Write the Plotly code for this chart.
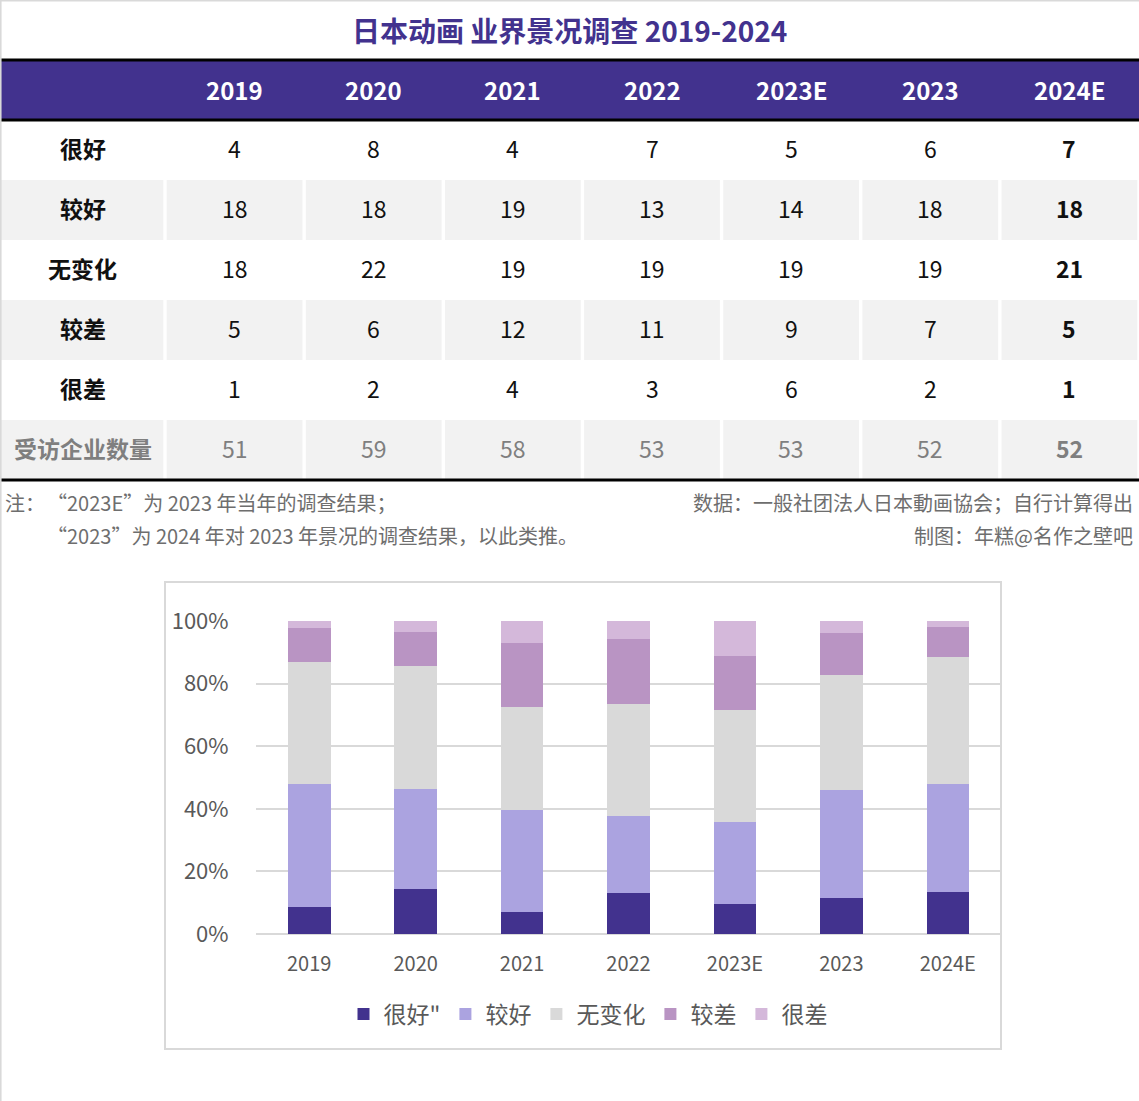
import plotly.graph_objects as go

# ---------------- data ----------------
years = ["2019", "2020", "2021", "2022", "2023E", "2023", "2024E"]
row_labels = ["很好", "较好", "无变化", "较差", "很差", "受访企业数量"]
very_good = [4, 8, 4, 7, 5, 6, 7]
good = [18, 18, 19, 13, 14, 18, 18]
no_change = [18, 22, 19, 19, 19, 19, 21]
bad = [5, 6, 12, 11, 9, 7, 5]
very_bad = [1, 2, 4, 3, 6, 2, 1]
respondents = [51, 59, 58, 53, 53, 52, 52]
legend_names = ['很好"', "较好", "无变化", "较差", "很差"]

title_text = "日本动画 业界景况调查 2019-2024"
note_head = "注："
note_lines = ["“2023E”为 2023 年当年的调查结果；",
              "“2023”为 2024 年对 2023 年景况的调查结果，以此类推。"]
source_lines = ["数据：一般社团法人日本動画協会；自行计算得出",
                "制图：年糕@名作之壁吧"]

# ---------------- styles ----------------
FONT = "Noto Sans CJK SC"
PURPLE = "#42328E"
GREY_ROW = "#F2F2F2"
series_colors = ["#42328E", "#ABA3E0", "#D9D9D9", "#B994C3", "#D4B8DA"]
W, H = 1139, 1101

fig = go.Figure()

series = [very_good, good, no_change, bad, very_bad]
for name, vals, col in zip(legend_names, series, series_colors):
    fig.add_trace(go.Bar(x=years, y=vals, name=name, marker_color=col,
                         marker_line_width=0, xaxis="x", yaxis="y"))

# ---------------- table (on hidden axes x2/y2) ----------------
label_w = 165 / ((W - 165) / 7)  # label column width in data-column units
total_w = label_w + 7
table_rows = [very_good, good, no_change, bad, very_bad, respondents]

shapes = []
annotations = []

shapes.append(dict(type="rect", xref="x2", yref="y2", x0=0, x1=total_w, y0=0, y1=1,
                   fillcolor=PURPLE, line_width=0, layer="below"))
gap = 0.012
for r in range(len(table_rows)):
    if r % 2 == 1:
        cells = [(0, label_w)] + [(label_w + c, label_w + c + 1) for c in range(7)]
        for (a, b) in cells:
            shapes.append(dict(type="rect", xref="x2", yref="y2",
                               x0=a + (gap if a > 0 else 0.006), x1=b - gap,
                               y0=r + 1, y1=r + 2, fillcolor=GREY_ROW,
                               line_width=0, layer="below"))
for yy in [0, 1, len(table_rows) + 1]:
    shapes.append(dict(type="line", xref="x2", yref="y2", x0=0, x1=total_w,
                       y0=yy, y1=yy, line=dict(color="black", width=3)))

for c, yr in enumerate(years):
    annotations.append(dict(xref="x2", yref="y2", x=label_w + c + 0.5, y=0.5,
                            text=f"<b>{yr}</b>", showarrow=False,
                            font=dict(family=FONT, size=24, color="white"),
                            xanchor="center", yanchor="middle"))

for r, (lab, vals) in enumerate(zip(row_labels, table_rows)):
    last = r == len(table_rows) - 1
    tcol = "#7F7F7F" if last else "#111111"
    annotations.append(dict(xref="x2", yref="y2", x=label_w / 2, y=r + 1.47,
                            text=f"<b>{lab}</b>", showarrow=False,
                            font=dict(family=FONT, size=23, color=tcol),
                            xanchor="center", yanchor="middle"))
    for c, v in enumerate(vals):
        txt = f"<b>{v}</b>" if c == 6 else str(v)
        annotations.append(dict(xref="x2", yref="y2", x=label_w + c + 0.5, y=r + 1.47,
                                text=txt, showarrow=False,
                                font=dict(family=FONT, size=23, color=tcol),
                                xanchor="center", yanchor="middle"))

def py(px):
    return 1 - px / H

def pxx(px):
    return px / W

annotations.append(dict(xref="paper", yref="paper", x=0.5, y=py(30), text=f"<b>{title_text}</b>",
                        showarrow=False, font=dict(family=FONT, size=28, color=PURPLE),
                        xanchor="center", yanchor="middle"))
NOTE_COL = "#6E6E6E"
annotations.append(dict(xref="paper", yref="paper", x=pxx(3), y=py(502), text=note_head,
                        showarrow=False, font=dict(family=FONT, size=20, color=NOTE_COL),
                        xanchor="left", yanchor="middle"))
for i, t in enumerate(note_lines):
    annotations.append(dict(xref="paper", yref="paper", x=pxx(45), y=py(502 + 33 * i), text=t,
                            showarrow=False, font=dict(family=FONT, size=20, color=NOTE_COL),
                            xanchor="left", yanchor="middle"))
for i, t in enumerate(source_lines):
    annotations.append(dict(xref="paper", yref="paper", x=pxx(1135), y=py(502 + 33 * i), text=t,
                            showarrow=False, font=dict(family=FONT, size=20, color=NOTE_COL),
                            xanchor="right", yanchor="middle"))

shapes.append(dict(type="rect", xref="paper", yref="paper", x0=pxx(165), x1=pxx(1001),
                   y0=py(1049), y1=py(582), line=dict(color="#D9D9D9", width=2),
                   fillcolor="rgba(0,0,0,0)", layer="below"))
shapes.append(dict(type="line", xref="paper", yref="paper", x0=0.0005, x1=0.0005, y0=0, y1=1,
                   line=dict(color="#D9D9D9", width=2)))
shapes.append(dict(type="line", xref="paper", yref="paper", x0=0, x1=1, y0=0.9995, y1=0.9995,
                   line=dict(color="#D9D9D9", width=2)))

fig.update_layout(
    width=W, height=H,
    margin=dict(l=0, r=0, t=0, b=0, autoexpand=False),
    paper_bgcolor="white", plot_bgcolor="white",
    barmode="stack", barnorm="fraction", bargap=0.6,
    font=dict(family=FONT, color="#595959"),
    xaxis=dict(domain=[pxx(256), pxx(1001)], anchor="y", showgrid=False, showline=False,
               zeroline=False, ticks="outside", ticklen=12, tickcolor="rgba(0,0,0,0)",
               automargin=False,
               tickfont=dict(family=FONT, size=20, color="#595959"), fixedrange=True),
    yaxis=dict(domain=[py(934), py(621)], anchor="x", range=[0, 1], dtick=0.2,
               tickformat=".0%", showgrid=True, gridcolor="#D9D9D9", gridwidth=2,
               zeroline=True, zerolinecolor="#D9D9D9", zerolinewidth=2,
               ticks="outside", ticklen=22, tickcolor="rgba(0,0,0,0)",
               automargin=False,
               tickfont=dict(family=FONT, size=22, color="#595959"), fixedrange=True),
    xaxis2=dict(domain=[0, 1], anchor="y2", range=[0, total_w], visible=False,
                automargin=False, fixedrange=True),
    yaxis2=dict(domain=[py(483), py(57)], anchor="x2", range=[7.05, -0.05], visible=False,
                automargin=False, fixedrange=True),
    showlegend=True,
    legend=dict(orientation="h", x=pxx(588), xanchor="center", y=py(1014), yanchor="middle",
                font=dict(family=FONT, size=23, color="#595959"), traceorder="normal",
                itemclick=False, itemdoubleclick=False),
    shapes=shapes,
    annotations=annotations,
)

fig.write_html("out.html", config={"displayModeBar": False},
               post_script="document.body.style.margin='0';")
